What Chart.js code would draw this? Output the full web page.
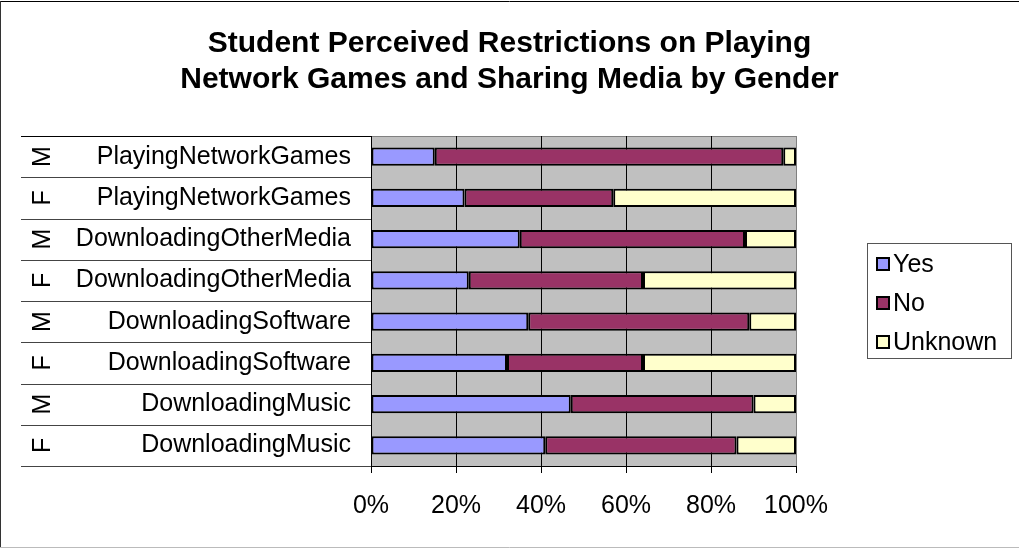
<!DOCTYPE html>
<html>
<head>
<meta charset="utf-8">
<script src="https://cdn.jsdelivr.net/npm/chart.js@4/dist/chart.umd.min.js"></script>
<style>
  body { margin: 0; background: #fff; }
  canvas { display: block; }
</style>
</head>
<body>
<canvas id="chart" width="1019" height="548"></canvas>
<script>
// rows listed top to bottom
const activities = ["PlayingNetworkGames", "PlayingNetworkGames", "DownloadingOtherMedia", "DownloadingOtherMedia",
                    "DownloadingSoftware", "DownloadingSoftware", "DownloadingMusic", "DownloadingMusic"];
const genders = ["M", "F", "M", "F", "M", "F", "M", "F"];

const yesPct = [15, 22, 35, 23, 37, 32, 47, 41];
const noPct = [82, 35, 53, 41, 52, 32, 43, 45];
const unknownPct = [3, 43, 12, 36, 11, 36, 10, 14];

const xTicks = [0, 20, 40, 60, 80, 100];

const FONT = "'Liberation Sans', Arial, sans-serif";
Chart.defaults.color = "#000";
Chart.defaults.font.family = FONT;

// gray plot background + light frame on top edge
const plotBack = {
    id: "plotBack",
    beforeDraw(chart) {
        const a = chart.chartArea;
        const ctx = chart.ctx;
        ctx.save();
        ctx.fillStyle = "#c0c0c0";
        ctx.fillRect(a.left, a.top, a.right - a.left, a.bottom - a.top);
        ctx.strokeStyle = "#808080";
        ctx.lineWidth = 1;
        ctx.beginPath();
        ctx.moveTo(a.left, a.top + 0.5);
        ctx.lineTo(a.right, a.top + 0.5);
        ctx.stroke();
        ctx.restore();
    }
};

// second level of the category axis: gender letters and row separators
const genderAxis = {
    id: "genderAxis",
    afterDraw(chart) {
        const ctx = chart.ctx;
        const y = chart.scales.y;
        const left = chart.chartArea.left;
        const half = (y.getPixelForValue(1) - y.getPixelForValue(0)) / 2;
        ctx.save();
        ctx.lineWidth = 1;
        for (let i = 0; i <= genders.length; i++) {
            const py = Math.round(y.getPixelForValue(i) - half) + 0.5;
            ctx.strokeStyle = i == 0 ? "#000" : "#444";
            ctx.beginPath();
            ctx.moveTo(21, py);
            ctx.lineTo(left, py);
            ctx.stroke();
        }
        ctx.fillStyle = "#000";
        ctx.font = "25px " + FONT;
        ctx.textAlign = "center";
        ctx.textBaseline = "alphabetic";
        for (let i = 0; i < genders.length; i++) {
            ctx.save();
            ctx.translate(50, y.getPixelForValue(i));
            ctx.rotate(-Math.PI / 2);
            ctx.fillText(genders[i], 0, 0);
            ctx.restore();
        }
        ctx.restore();
    }
};

// boxed legend on the right
const boxLegend = {
    id: "boxLegend",
    afterDraw(chart) {
        const ctx = chart.ctx;
        ctx.save();
        ctx.strokeStyle = "#555";
        ctx.lineWidth = 1;
        ctx.strokeRect(867.5, 243.5, 144, 115);
        ctx.font = "25px " + FONT;
        ctx.textAlign = "left";
        ctx.textBaseline = "middle";
        chart.data.datasets.forEach((ds, i) => {
            const cy = 264 + i * 39;
            ctx.fillStyle = ds.backgroundColor;
            ctx.fillRect(877, cy - 6, 12, 12);
            ctx.strokeStyle = "#000";
            ctx.lineWidth = 2;
            ctx.strokeRect(877, cy - 6, 12, 12);
            ctx.fillStyle = "#000";
            ctx.fillText(ds.label, 893, cy + 1);
        });
        ctx.restore();
    }
};

// outer chart frame
const frame = {
    id: "frame",
    afterDraw(chart) {
        const ctx = chart.ctx;
        ctx.save();
        ctx.lineWidth = 1;
        ctx.strokeStyle = "#000";
        ctx.beginPath();
        ctx.moveTo(0, 1.5);
        ctx.lineTo(1019, 1.5);
        ctx.stroke();
        ctx.strokeStyle = "#333";
        ctx.beginPath();
        ctx.moveTo(0.5, 1);
        ctx.lineTo(0.5, 547);
        ctx.stroke();
        ctx.strokeStyle = "#bbb";
        ctx.beginPath();
        ctx.moveTo(0, 547.5);
        ctx.lineTo(1019, 547.5);
        ctx.stroke();
        ctx.restore();
    }
};

function barSet(label, data, color) {
    return {
        label: label,
        data: data,
        backgroundColor: color,
        borderColor: "#000",
        borderWidth: 2,
        borderSkipped: false,
        barPercentage: 0.44,
        categoryPercentage: 1
    };
}

new Chart(document.getElementById("chart"), {
    type: "bar",
    data: {
        labels: activities,
        datasets: [
            barSet("Yes", yesPct, "#9999ff"),
            barSet("No", noPct, "#993366"),
            barSet("Unknown", unknownPct, "#ffffcc")
        ]
    },
    options: {
        indexAxis: "y",
        responsive: false,
        animation: false,
        layout: { padding: 0 },
        plugins: {
            legend: { display: false },
            tooltip: { enabled: false },
            title: {
                display: true,
                text: ["Student Perceived Restrictions on Playing", "Network Games and Sharing Media by Gender"],
                font: { size: 30, weight: "bold", lineHeight: 1.2 },
                color: "#000",
                padding: { top: 26, bottom: 38 }
            }
        },
        scales: {
            x: {
                stacked: true,
                min: 0,
                max: 100,
                afterBuildTicks: s => { s.ticks = xTicks.map(v => ({ value: v })); },
                afterFit: s => { s.height = 82; },
                ticks: {
                    callback: v => v + "%",
                    font: { size: 25 },
                    color: "#000",
                    padding: 18,
                    maxRotation: 0
                },
                grid: {
                    color: c => (c.tick && c.tick.value === 100 ? "#808080" : "#000"),
                    tickColor: "#000",
                    tickLength: 7,
                    lineWidth: 1
                },
                border: { color: "#000", width: 1 }
            },
            y: {
                stacked: true,
                afterFit: s => { s.width = 371; },
                ticks: {
                    font: { size: 25 },
                    color: "#000",
                    padding: 20
                },
                grid: { drawOnChartArea: false, drawTicks: false },
                border: { color: "#000", width: 1 }
            },
            // empty strip on the right that leaves room for the legend box
            side: {
                type: "category",
                position: "right",
                afterFit: s => { s.width = 223; },
                ticks: { display: false },
                grid: { display: false },
                border: { display: false }
            }
        }
    },
    plugins: [plotBack, genderAxis, boxLegend, frame]
});
</script>
</body>
</html>
